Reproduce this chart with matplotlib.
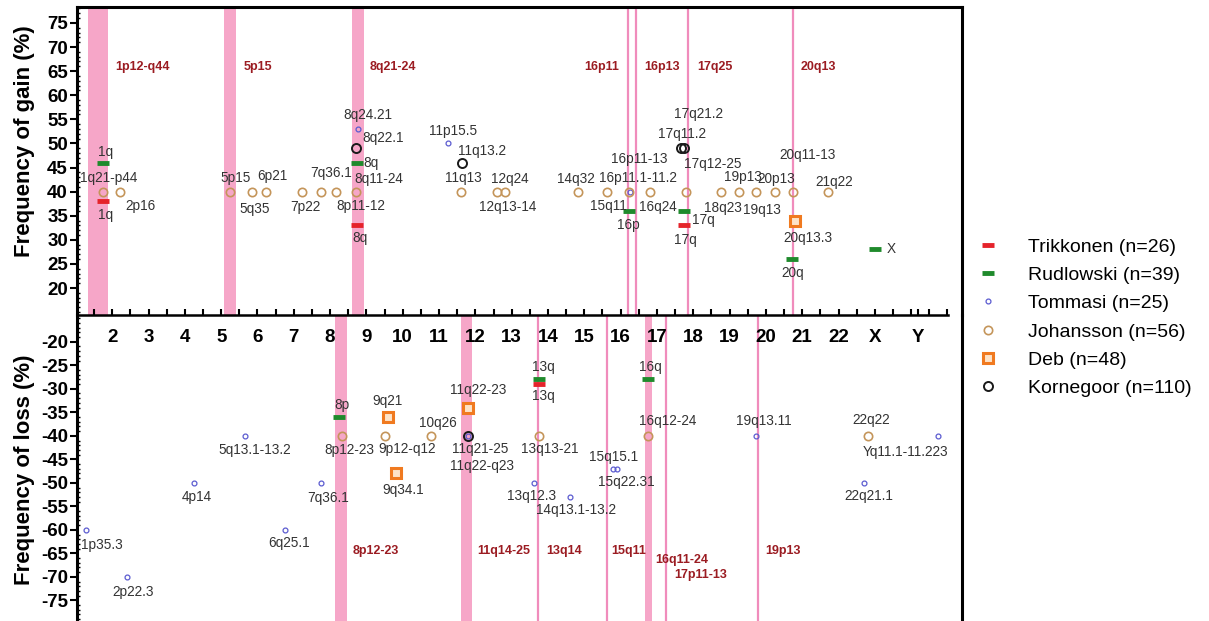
import matplotlib
matplotlib.use('Agg')
import matplotlib.pyplot as plt
from matplotlib.lines import Line2D
from matplotlib.ticker import MultipleLocator

plt.rcParams['font.family'] = ['Liberation Sans', 'DejaVu Sans']
plt.rcParams['axes.unicode_minus'] = False

# %% chromosome axis
chrom_pos = list(range(2, 23)) + [23, 24.2]
chrom_labels = [str(c) for c in range(2, 23)] + ['X', 'Y']

# %% recurrent regions (bands), gain above / loss below
gain_regions = ['1p12-q44', '5p15', '8q21-24', '16p11', '16p13', '17q25', '20q13']
gain_lo = [1.34, 5.08, 8.60, 16.20, 16.42, 17.85, 20.76]
gain_hi = [1.89, 5.41, 8.93, 16.20, 16.42, 17.85, 20.76]
loss_regions = ['8p12-23', '11q14-25', '13q14', '15q11', '16q11-24', '17p11-13', '19p13']
loss_lo = [8.13, 11.60, 13.72, 15.62, 16.66, 17.24, 19.77]
loss_hi = [8.46, 11.90, 13.72, 15.62, 16.85, 17.24, 19.77]

# %% studies
trik_x = [1.75, 8.74, 17.74, 13.75]
trik_y = [38, 33, 33, -29]
trik_lbl = ['1q', '8q', '17q', '13q']

rud_x = [1.75, 8.74, 16.22, 17.74, 20.73, 23.0, 8.24, 13.75, 16.75]
rud_y = [46, 46, 36, 36, 26, 28, -36, -28, -28]
rud_lbl = ['1q', '8q', '16p', '17q', '20q', 'X', '8p', '13q', '16q']

tom_x = [8.77, 11.24, 16.25, 1.28, 2.41, 4.25, 5.66, 6.76, 7.75, 11.79,
         13.61, 14.60, 15.78, 15.89, 19.74, 22.69, 24.75]
tom_y = [53, 50, 40, -60, -70, -50, -40, -60, -50, -40,
         -50, -53, -47, -47, -40, -50, -40]
tom_lbl = ['8q24.21', '11p15.5', '16p11.1-11.2', '1p35.3', '2p22.3', '4p14',
           '5q13.1-13.2', '6q25.1', '7q36.1', '11q22-q23', '13q12.3',
           '14q13.1-13.2', '15q15.1', '15q22.31', '19q13.11', '22q21.1',
           'Yq11.1-11.223']

joh_x = [1.75, 2.22, 5.25, 5.85, 6.24, 7.23, 7.75, 8.16, 8.71, 11.60, 12.59,
         12.81, 14.82, 15.62, 16.22, 16.80, 17.79, 18.75, 19.25, 19.74, 20.24,
         20.76, 21.72, 8.33, 9.51, 10.77, 13.75, 16.75, 22.80]
joh_y = [40] * 23 + [-40] * 6
joh_lbl = ['1q21-p44', '2p16', '5p15', '5q35', '6p21', '7p22', '7q36.1',
           '8p11-12', '8q11-24', '11q13', '12q24', '12q13-14', '14q32', '15q11',
           '16p11-13', '16q24', '17q12-25', '18q23', '19p13', '19q13', '20p13',
           '20q11-13', '21q22', '8p12-23', '9p12-q12', '10q26', '13q13-21',
           '16q12-24', '22q22']

deb_x = [20.79, 9.59, 9.81, 11.79]
deb_y = [34, -36, -48, -34]
deb_lbl = ['20q13.3', '9q21', '9q34.1', '11q22-23']

korn_x = [8.71, 11.63, 17.65, 17.74, 11.79]
korn_y = [49, 46, 49, 49, -40]
korn_lbl = ['8q22.1', '11q13.2', '17q11.2', '17q21.2', '11q21-25']

# label offsets in pixels (dx, dy) from each point
trik_off = [(2, -14), (3, -13), (2, -15), (4, -12)]
rud_off = [(2, 11), (14, 0), (0, -14), (20, -9), (0, -14), (16, 0), (3, 12), (4, 12), (3, 12)]
tom_off = [(10, 14), (5, 12), (8, 14), (16, -15), (6, -15), (3, -14), (10, -14),
           (4, -13), (7, -15), (14, -30), (-2, -13), (6, -13), (1, 12), (10, -13),
           (7, 15), (5, -13), (-33, -16)]
joh_off = [(6, 14), (20, -14), (5, 14), (3, -17), (6, 16), (3, -15), (10, 19),
           (25, -14), (23, 13), (3, 14), (13, 13), (3, -15), (-2, 13), (2, -14),
           (11, 33), (8, -15), (27, 28), (2, -16), (4, 15), (5, -18), (2, 13),
           (14, 37), (6, 10), (7, -14), (22, -13), (7, 13), (11, -13), (20, 15), (4, 16)]
deb_off = [(13, -17), (0, 16), (7, -17), (10, 18)]
korn_off = [(27, 10), (20, 12), (1, 14), (15, 34), (12, -13)]

# region label anchors
gain_txt_x = [2.08, 5.61, 9.10, 15.0, 16.64, 18.12, 20.95]
gain_txt_y = [65.9] * 7
loss_txt_x = [8.63, 12.04, 13.94, 15.75, 16.94, 17.49, 19.99]
loss_txt_y = [-64.5, -64.5, -64.5, -64.5, -66.4, -69.6, -64.5]

# %% styles
band_col = '#f6a6c8'
region_col = '#9b1c22'
styles = {
    'Trikkonen (n=26)': dict(marker='_', ms=9, mew=3.5, color='#e5232b', mfc='none'),
    'Rudlowski (n=39)': dict(marker='_', ms=9, mew=3.5, color='#1f8a2c', mfc='none'),
    'Tommasi (n=25)': dict(marker='o', ms=3.5, mew=0.9, color='#5b5bd0', mfc='none'),
    'Johansson (n=56)': dict(marker='o', ms=6, mew=1.2, color='#c4955a', mfc='none'),
    'Deb (n=48)': dict(marker='s', ms=6.5, mew=2.2, color='#f07a20', mfc='#fde3c8'),
    'Kornegoor (n=110)': dict(marker='o', ms=6.5, mew=1.4, color='#1a1a1a', mfc='none'),
}
series = [
    ('Trikkonen (n=26)', trik_x, trik_y, trik_lbl, trik_off),
    ('Rudlowski (n=39)', rud_x, rud_y, rud_lbl, rud_off),
    ('Tommasi (n=25)', tom_x, tom_y, tom_lbl, tom_off),
    ('Johansson (n=56)', joh_x, joh_y, joh_lbl, joh_off),
    ('Deb (n=48)', deb_x, deb_y, deb_lbl, deb_off),
    ('Kornegoor (n=110)', korn_x, korn_y, korn_lbl, korn_off),
]

# %% figure
W, H = 1209, 621
fig = plt.figure(figsize=(W / 100, H / 100), dpi=100)
ax1 = fig.add_axes([77 / W, 1 - 315 / H, 885 / W, 308 / H])
ax2 = fig.add_axes([77 / W, 0, 885 / W, 306 / H])
# upper axes on top so its chromosome labels show over the loss panel
ax1.set_zorder(2)
ax1.patch.set_visible(False)
ax2.set_zorder(1)

for ax in (ax1, ax2):
    ax.set_xlim(1.03, 25.4)
ax1.set_ylim(14.4, 78.3)
ax2.set_ylim(-79.4, -14.3)


def draw_bands(ax, lo, hi):
    for a, b in zip(lo, hi):
        if b > a:
            ax.axvspan(a, b, color=band_col, lw=0, zorder=0)
        else:
            ax.axvline(a, color='#f08cbc', lw=1.6, zorder=0)


draw_bands(ax1, gain_lo, gain_hi)
draw_bands(ax2, loss_lo, loss_hi)

for name, x, y in zip(gain_regions, gain_txt_x, gain_txt_y):
    ax1.text(x, y, name, color=region_col, fontsize=9, fontweight='bold', va='center', ha='left')
for name, x, y in zip(loss_regions, loss_txt_x, loss_txt_y):
    ax2.text(x, y, name, color=region_col, fontsize=9, fontweight='bold', va='center', ha='left')

for name, xs, ys, lbls, offs in series:
    st = styles[name]
    for x, y, lbl, off in zip(xs, ys, lbls, offs):
        ax = ax1 if y > 0 else ax2
        ax.plot([x], [y], ls='none', zorder=3, **st)
        ax.annotate(lbl, (x, y), xytext=off, textcoords='offset pixels',
                    ha='center', va='center', fontsize=9.8, color='#333333', zorder=4)

# spines
for ax in (ax1, ax2):
    for s in ('left', 'right'):
        ax.spines[s].set_linewidth(2.2)
ax1.spines['top'].set_linewidth(2.2)
ax1.spines['bottom'].set_linewidth(1.8)
ax1.spines['bottom'].set_bounds(1.03, 25.02)
ax2.spines['top'].set_visible(False)
ax2.spines['bottom'].set_visible(False)

# ticks
ax1.set_xticks(chrom_pos, chrom_labels, fontsize=13.5, fontweight='bold')
ax1.xaxis.set_minor_locator(MultipleLocator(0.5))
ax1.tick_params(axis='x', which='both', direction='in', length=4, width=1.5, pad=10)
ax2.set_xticks([])

ax1.set_yticks(range(20, 80, 5))
ax2.set_yticks(range(-75, -15, 5))
for ax in (ax1, ax2):
    ax.yaxis.set_minor_locator(MultipleLocator(1))
    ax.tick_params(axis='y', which='major', direction='out', length=5, width=1.5, pad=1.5)
    ax.tick_params(axis='y', which='minor', direction='in', length=2.5, width=1)
    for t in ax.get_yticklabels():
        t.set_fontsize(13.5)
        t.set_fontweight('bold')

ax1.set_ylabel('Frequency of gain (%)', fontsize=16, fontweight='bold')
ax1.yaxis.set_label_coords(-0.047, 0.563)
ax2.set_ylabel('Frequency of loss (%)', fontsize=16, fontweight='bold')
ax2.yaxis.set_label_coords(-0.047, 0.493)

handles = [Line2D([], [], ls='none', **styles[n]) for n, *_ in series]
fig.legend(handles, [n for n, *_ in series], loc='upper left',
           bbox_to_anchor=(976 / W, 1 - 238 / H), frameon=False, fontsize=14,
           handlelength=1.2, handletextpad=1.5, labelspacing=0.55,
           borderpad=0, borderaxespad=0)

plt.savefig('out.png', dpi=100)
